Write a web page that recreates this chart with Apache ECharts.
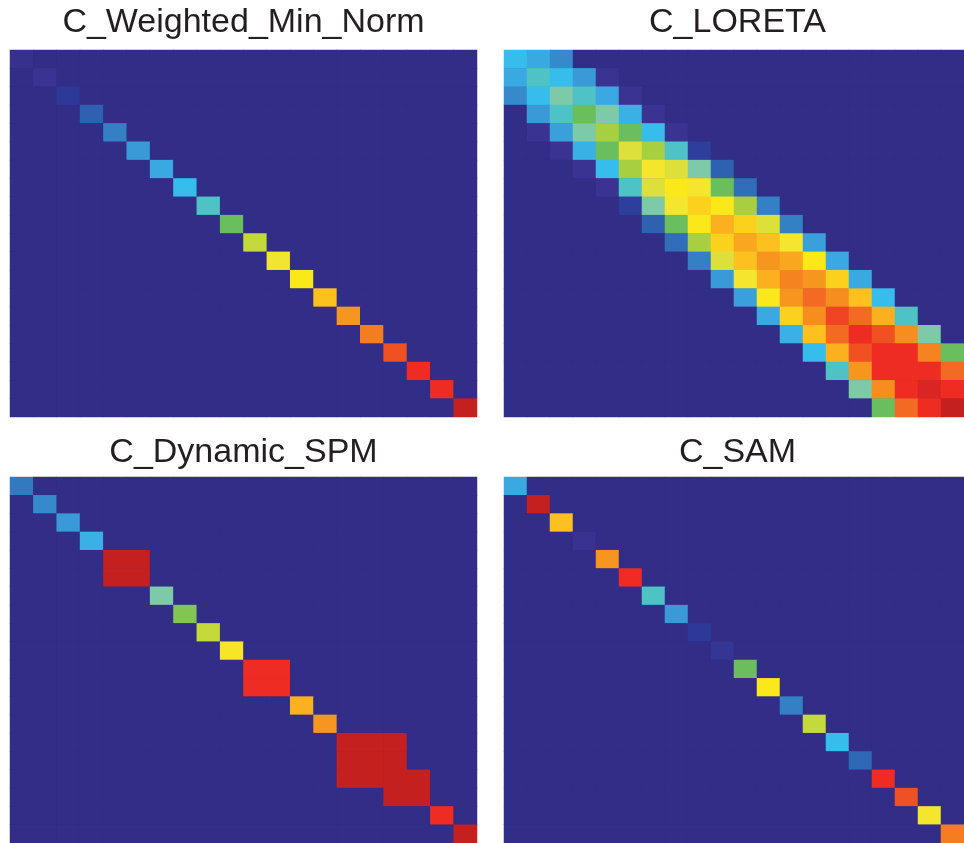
<!DOCTYPE html>
<html>
<head>
<meta charset="utf-8">
<script src="https://cdn.jsdelivr.net/npm/echarts@6/dist/echarts.min.js"></script>
<style>
html,body{margin:0;padding:0;background:#fff;}
#chart{width:964px;height:843px;}
</style>
</head>
<body>
<div id="chart"></div>
<script>
// ---------- data ----------
const panelTitles = ['C_Weighted_Min_Norm', 'C_LORETA', 'C_Dynamic_SPM', 'C_SAM'];
const gridSize = 20;

// C_Weighted_Min_Norm: diagonal values
const wmnDiag = [0.03, 0.05, 0.1, 0.2, 0.25, 0.3, 0.35, 0.4, 0.45, 0.55,
                 0.65, 0.71, 0.75, 0.8, 0.85, 0.88, 0.92, 0.95, 0.95, 1.0];

// C_LORETA: band rows (first non-zero column, then values)
const loretaStart = [0, 0, 0, 1, 1, 2, 3, 4, 5, 6, 7, 8, 9, 10, 11, 12, 13, 14, 15, 16];
const loretaRows = [
  [0.4, 0.35, 0.27],
  [0.35, 0.45, 0.4, 0.3, 0.05],
  [0.27, 0.4, 0.5, 0.45, 0.35, 0.05],
  [0.3, 0.45, 0.55, 0.5, 0.37, 0.05],
  [0.05, 0.32, 0.5, 0.6, 0.55, 0.4, 0.05],
  [0.05, 0.37, 0.55, 0.68, 0.6, 0.45, 0.12],
  [0.05, 0.4, 0.6, 0.72, 0.68, 0.5, 0.2],
  [0.05, 0.45, 0.68, 0.75, 0.72, 0.55, 0.22],
  [0.12, 0.5, 0.72, 0.78, 0.75, 0.6, 0.25],
  [0.2, 0.55, 0.75, 0.82, 0.78, 0.68, 0.25],
  [0.22, 0.6, 0.78, 0.83, 0.8, 0.72, 0.32],
  [0.25, 0.68, 0.8, 0.85, 0.83, 0.75, 0.35],
  [0.3, 0.72, 0.82, 0.87, 0.85, 0.78, 0.35],
  [0.32, 0.75, 0.85, 0.9, 0.86, 0.8, 0.4],
  [0.35, 0.78, 0.86, 0.93, 0.9, 0.82, 0.45],
  [0.37, 0.8, 0.9, 0.95, 0.92, 0.86, 0.5],
  [0.4, 0.82, 0.92, 0.95, 0.95, 0.87, 0.55],
  [0.45, 0.85, 0.95, 0.95, 0.95, 0.9],
  [0.5, 0.86, 0.95, 0.975, 0.95],
  [0.55, 0.9, 0.95, 1.0]
];

// C_Dynamic_SPM: diagonal values plus square blocks [rowFrom, rowTo, colFrom, colTo, value]
const spmDiag = [0.24, 0.27, 0.3, 0.37, 1.0, 1.0, 0.5, 0.57, 0.65, 0.73,
                 0.95, 0.95, 0.82, 0.85, 1.0, 1.0, 1.0, 1.0, 0.95, 1.0];
const spmBlocks = [
  [4, 5, 4, 5, 1.0],
  [10, 11, 10, 11, 0.95],
  [14, 16, 14, 16, 1.0],
  [16, 17, 16, 17, 1.0]
];

// C_SAM: diagonal values
const samDiag = [0.35, 1.0, 0.8, 0.04, 0.85, 0.95, 0.45, 0.3, 0.1, 0.07,
                 0.55, 0.75, 0.25, 0.65, 0.4, 0.21, 0.95, 0.92, 0.72, 0.88];

// colour scale (print-style jet)
const colorScale = ['#322D86', '#3A3392', '#2E3896', '#2C4AA3', '#2E62B0', '#3380C4',
  '#3A9AD8', '#3BA9E1', '#36BDEC', '#4EC2C4', '#7DC9A8', '#6BBE5E', '#A8CF40',
  '#C4D93A', '#EEE43A', '#FBE81A', '#FDC11F', '#F7961E', '#F26A23', '#EE2C24', '#C42020'];

// ---------- build matrices ----------
function emptyMatrix() {
  const m = [];
  for (let r = 0; r < gridSize; r++) m.push(new Array(gridSize).fill(0));
  return m;
}
function fromDiag(diag) {
  const m = emptyMatrix();
  diag.forEach((v, i) => { m[i][i] = v; });
  return m;
}
function fromBand(starts, rows) {
  const m = emptyMatrix();
  rows.forEach((vals, r) => vals.forEach((v, k) => { m[r][starts[r] + k] = v; }));
  return m;
}
function withBlocks(m, blocks) {
  blocks.forEach(([r0, r1, c0, c1, v]) => {
    for (let r = r0; r <= r1; r++) for (let c = c0; c <= c1; c++) m[r][c] = v;
  });
  return m;
}
function toHeat(m) {
  const out = [];
  for (let r = 0; r < gridSize; r++) for (let c = 0; c < gridSize; c++) out.push([c, r, m[r][c]]);
  return out;
}
const matrices = [
  fromDiag(wmnDiag),
  fromBand(loretaStart, loretaRows),
  withBlocks(fromDiag(spmDiag), spmBlocks),
  fromDiag(samDiag)
];

// ---------- layout ----------
const panelLeft = [10, 504, 10, 504];
const panelTop = [50, 50, 477, 477];
const panelW = 467, panelH = 367;
const titleY = [23, 23, 453, 453];

const idx = Array.from({length: gridSize}, (_, i) => String(i));

const option = {
  animation: false,
  backgroundColor: '#ffffff',
  title: panelTitles.map((t, i) => ({
    text: t,
    left: panelLeft[i] + panelW / 2,
    top: titleY[i],
    textAlign: 'center',
    textVerticalAlign: 'middle',
    padding: 0,
    textStyle: {fontFamily: '"Liberation Sans", Arial, sans-serif', fontSize: 34, fontWeight: 'normal', color: '#231F20'}
  })),
  grid: panelLeft.map((l, i) => ({
    left: l, top: panelTop[i], width: panelW, height: panelH,
    show: true, backgroundColor: colorScale[0], borderWidth: 0, containLabel: false
  })),
  xAxis: panelLeft.map((_, i) => ({
    gridIndex: i, type: 'category', data: idx, show: false, boundaryGap: true
  })),
  yAxis: panelLeft.map((_, i) => ({
    gridIndex: i, type: 'category', data: idx, show: false, inverse: true, boundaryGap: true
  })),
  visualMap: {
    type: 'continuous', show: false, min: 0, max: 1, dimension: 2,
    seriesIndex: [0, 1, 2, 3],
    inRange: {color: colorScale}
  },
  series: matrices.map((m, i) => ({
    type: 'heatmap', xAxisIndex: i, yAxisIndex: i,
    data: toHeat(m),
    itemStyle: {borderWidth: 0},
    emphasis: {disabled: true},
    progressive: 0
  }))
};

const chart = echarts.init(document.getElementById('chart'), null, {renderer: 'canvas'});
chart.setOption(option);
</script>
</body>
</html>
